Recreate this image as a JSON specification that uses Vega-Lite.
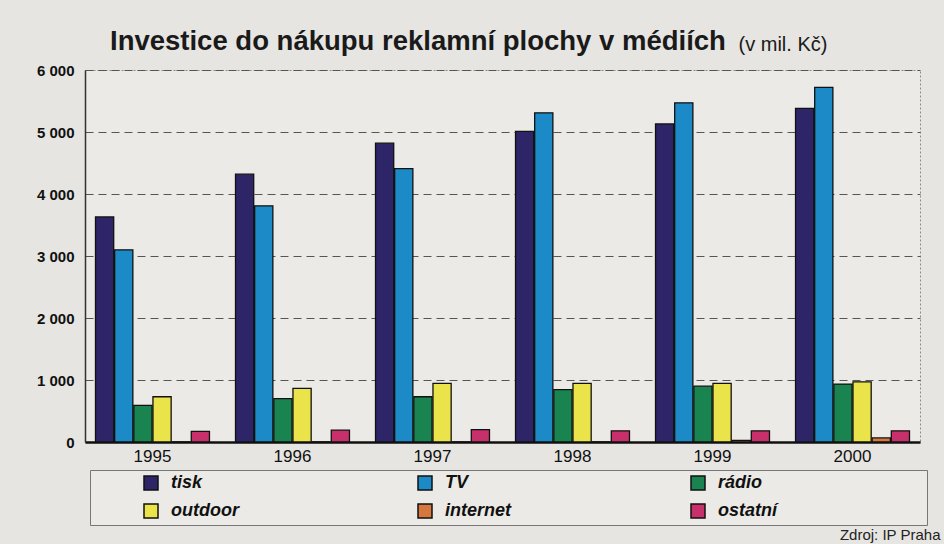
{
  "$schema": "https://vega.github.io/schema/vega-lite/v6.json",
  "width": 835,
  "height": 372,
  "autosize": {"type": "none"},
  "padding": {"left": 85, "top": 70, "right": 24, "bottom": 102},
  "background": "#e6e5e1",
  "title": {
    "text": "Investice do nákupu reklamní plochy v médiích",
    "anchor": "start",
    "frame": "group",
    "dx": 25,
    "dy": 62,
    "offset": 19,
    "baseline": "alphabetic",
    "font": "Liberation Sans",
    "fontSize": 27.5,
    "fontWeight": "bold",
    "color": "#1a1a1a"
  },
  "data": {
    "values": [
      {"year": "1995", "media": "tisk", "value": 3630},
      {"year": "1995", "media": "TV", "value": 3100},
      {"year": "1995", "media": "rádio", "value": 590},
      {"year": "1995", "media": "outdoor", "value": 730},
      {"year": "1995", "media": "internet", "value": 0},
      {"year": "1995", "media": "ostatní", "value": 170},
      {"year": "1996", "media": "tisk", "value": 4320},
      {"year": "1996", "media": "TV", "value": 3810},
      {"year": "1996", "media": "rádio", "value": 700},
      {"year": "1996", "media": "outdoor", "value": 865},
      {"year": "1996", "media": "internet", "value": 0},
      {"year": "1996", "media": "ostatní", "value": 190},
      {"year": "1997", "media": "tisk", "value": 4820},
      {"year": "1997", "media": "TV", "value": 4410},
      {"year": "1997", "media": "rádio", "value": 730},
      {"year": "1997", "media": "outdoor", "value": 945},
      {"year": "1997", "media": "internet", "value": 0},
      {"year": "1997", "media": "ostatní", "value": 200},
      {"year": "1998", "media": "tisk", "value": 5010},
      {"year": "1998", "media": "TV", "value": 5310},
      {"year": "1998", "media": "rádio", "value": 845},
      {"year": "1998", "media": "outdoor", "value": 945},
      {"year": "1998", "media": "internet", "value": 0},
      {"year": "1998", "media": "ostatní", "value": 180},
      {"year": "1999", "media": "tisk", "value": 5130},
      {"year": "1999", "media": "TV", "value": 5470},
      {"year": "1999", "media": "rádio", "value": 900},
      {"year": "1999", "media": "outdoor", "value": 945},
      {"year": "1999", "media": "internet", "value": 25},
      {"year": "1999", "media": "ostatní", "value": 180},
      {"year": "2000", "media": "tisk", "value": 5380},
      {"year": "2000", "media": "TV", "value": 5720},
      {"year": "2000", "media": "rádio", "value": 935},
      {"year": "2000", "media": "outdoor", "value": 970},
      {"year": "2000", "media": "internet", "value": 65},
      {"year": "2000", "media": "ostatní", "value": 180}
    ]
  },
  "mark": {"type": "bar", "stroke": "#111", "strokeWidth": 1.3},
  "encoding": {
    "x": {
      "field": "year",
      "type": "nominal",
      "scale": {"paddingInner": 0.186, "paddingOuter": 0.075},
      "axis": {
        "title": "Zdroj: IP Praha",
        "titleX": 855,
        "titleY": 97,
        "titleAlign": "right",
        "titleBaseline": "alphabetic",
        "titleFont": "Liberation Sans",
        "titleFontSize": 15,
        "titleFontWeight": "normal",
        "titleColor": "#222",
        "labelAngle": 0,
        "labelFont": "Liberation Sans",
        "labelFontSize": 17,
        "labelColor": "#111",
        "labelPadding": 6,
        "ticks": false,
        "domainColor": "#111",
        "domainWidth": 2.5
      }
    },
    "xOffset": {
      "field": "media",
      "type": "nominal",
      "sort": ["tisk", "TV", "rádio", "outdoor", "internet", "ostatní"],
      "scale": {"paddingInner": 0.05}
    },
    "y": {
      "field": "value",
      "type": "quantitative",
      "scale": {"domain": [0, 6000]},
      "axis": {
        "title": "(v mil. Kč)",
        "titleX": 653,
        "titleY": -20,
        "titleAngle": 0,
        "titleAlign": "left",
        "titleBaseline": "alphabetic",
        "titleFont": "Liberation Sans",
        "titleFontSize": 20,
        "titleFontWeight": "normal",
        "titleColor": "#1a1a1a",
        "values": [0, 1000, 2000, 3000, 4000, 5000, 6000],
        "labelExpr": "replace(format(datum.value, ','), ',', ' ')",
        "labelFont": "Liberation Sans",
        "labelFontWeight": "bold",
        "labelFontSize": 15,
        "labelColor": "#111",
        "labelPadding": 11,
        "ticks": false,
        "grid": true,
        "gridDash": [8, 5],
        "gridColor": "#555",
        "gridWidth": 1.2,
        "domainColor": "#333",
        "domainWidth": 1.5
      }
    },
    "color": {
      "field": "media",
      "type": "nominal",
      "sort": ["tisk", "TV", "rádio", "outdoor", "internet", "ostatní"],
      "scale": {
        "domain": ["tisk", "TV", "rádio", "outdoor", "internet", "ostatní"],
        "range": ["#2d2568", "#1c8ac6", "#1a8450", "#ebe34a", "#d6783e", "#c8306c"]
      },
      "legend": {
        "orient": "none",
        "legendX": 5,
        "legendY": 400,
        "direction": "horizontal",
        "columns": 3,
        "title": " ",
        "titleOrient": "right",
        "titlePadding": 146,
        "titleFontSize": 1,
        "symbolType": "square",
        "symbolSize": 196,
        "symbolStrokeColor": "#111",
        "symbolStrokeWidth": 1.5,
        "symbolOffset": 48,
        "labelOffset": 11,
        "labelFont": "Liberation Sans",
        "labelFontSize": 18,
        "labelFontWeight": "bold",
        "labelFontStyle": "italic",
        "labelColor": "#111",
        "labelLimit": 300,
        "columnPadding": 129,
        "rowPadding": 8,
        "padding": 4,
        "strokeColor": "#777",
        "fillColor": "#eceae6",
        "cornerRadius": 0
      }
    }
  },
  "config": {
    "view": {"fill": "#eceae6", "stroke": "#8a8a8a", "strokeDash": [2, 2]}
  }
}
